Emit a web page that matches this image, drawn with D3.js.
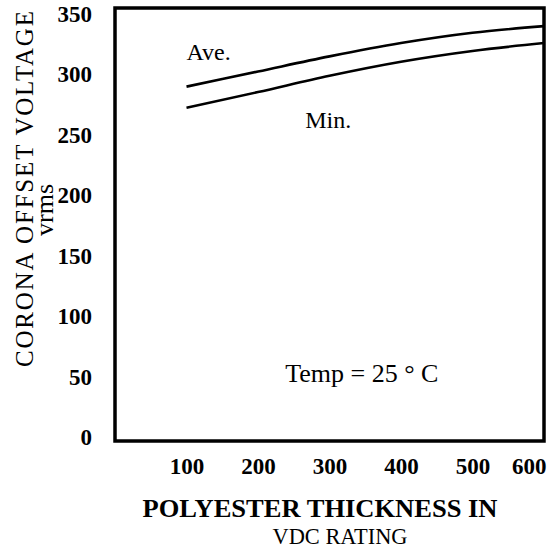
<!DOCTYPE html>
<html>
<head>
<meta charset="utf-8">
<script src="https://cdn.jsdelivr.net/npm/d3@7"></script>
<style>
  body { margin: 0; background: #fff; }
</style>
</head>
<body>
<script>
// thickness (VDC rating) and corona offset voltage (vrms)
var rating = [100, 200, 300, 400, 500, 600];
var aveVolts = [290, 302.5, 315, 326, 334.5, 340];
var minVolts = [272.5, 285.5, 299, 310.6, 319.5, 326];

var xTicks = [100, 200, 300, 400, 500, 600];
var yTicks = [0, 50, 100, 150, 200, 250, 300, 350];

// annotations in data units
var notes = [
  {text: "Ave.", x: 100, y: 312, size: 24},
  {text: "Min.", x: 266, y: 256, size: 24},
  {text: "Temp = 25 \u00b0 C", x: 238, y: 46, size: 26}
];

var serif = "'Liberation Serif'";

var width = 547,
    height = 550;

var x = d3.scaleLinear().domain([0, 600]).range([115, 544]);
var y = d3.scaleLinear().domain([-3, 355]).range([441, 8]);

var svg = d3.select("body").append("svg")
    .attr("width", width)
    .attr("height", height);

// curves
var line = d3.line()
    .x(function(d) { return x(d[0]); })
    .y(function(d) { return y(d[1]); })
    .curve(d3.curveMonotoneX);

[aveVolts, minVolts].forEach(function(series) {
  svg.append("path")
      .datum(rating.map(function(r, i) { return [r, series[i]]; }))
      .attr("d", line)
      .attr("fill", "none")
      .attr("stroke", "#000")
      .attr("stroke-width", 2.6);
});

// plot frame
svg.append("rect")
    .attr("x", x.range()[0])
    .attr("y", y.range()[1])
    .attr("width", x.range()[1] - x.range()[0])
    .attr("height", y.range()[0] - y.range()[1])
    .attr("fill", "none")
    .attr("stroke", "#000")
    .attr("stroke-width", 3.5);

// y axis labels
var yAxis = svg.append("g")
    .attr("transform", "translate(92,0)")
    .call(d3.axisLeft(y).tickValues(yTicks).tickSize(0).tickPadding(0));
yAxis.select(".domain").remove();
yAxis.attr("font-family", null).attr("font-size", null);
yAxis.selectAll("text")
    .style("font-family", serif)
    .style("font-size", "23px")
    .style("font-weight", "bold")
    .style("fill", "#000");

// x axis labels
var xAxis = svg.append("g")
    .attr("transform", "translate(0,457)")
    .call(d3.axisBottom(x).tickValues(xTicks).tickSize(0).tickPadding(0));
xAxis.select(".domain").remove();
xAxis.attr("font-family", null).attr("font-size", null);
xAxis.selectAll("text")
    .style("font-family", serif)
    .style("font-size", "23px")
    .style("font-weight", "bold")
    .style("fill", "#000")
    .attr("dy", "0.72em");
xAxis.selectAll(".tick").filter(function(d) { return d == 600; })
    .select("text")
    .attr("text-anchor", "end")
    .attr("x", 2);

// axis titles
svg.append("text")
    .attr("transform", "translate(33,189) rotate(-90)")
    .attr("text-anchor", "middle")
    .style("font-family", serif)
    .style("font-size", "25px")
    .attr("textLength", 356)
    .attr("lengthAdjust", "spacing")
    .text("CORONA OFFSET VOLTAGE");

svg.append("text")
    .attr("transform", "translate(53,210) rotate(-90)")
    .attr("text-anchor", "middle")
    .style("font-family", serif)
    .style("font-size", "26px")
    .text("vrms");

svg.append("text")
    .attr("x", 320)
    .attr("y", 517)
    .attr("text-anchor", "middle")
    .style("font-family", serif)
    .style("font-size", "26px")
    .style("font-weight", "bold")
    .attr("textLength", 355)
    .attr("lengthAdjust", "spacingAndGlyphs")
    .text("POLYESTER THICKNESS IN");

svg.append("text")
    .attr("x", 340)
    .attr("y", 544)
    .attr("text-anchor", "middle")
    .style("font-family", serif)
    .style("font-size", "24px")
    .attr("textLength", 135)
    .attr("lengthAdjust", "spacingAndGlyphs")
    .text("VDC RATING");

// curve and condition labels
svg.selectAll(".note")
    .data(notes)
  .enter().append("text")
    .attr("class", "note")
    .attr("x", function(d) { return x(d.x); })
    .attr("y", function(d) { return y(d.y); })
    .style("font-family", serif)
    .style("font-size", function(d) { return d.size + "px"; })
    .text(function(d) { return d.text; });
</script>
</body>
</html>
